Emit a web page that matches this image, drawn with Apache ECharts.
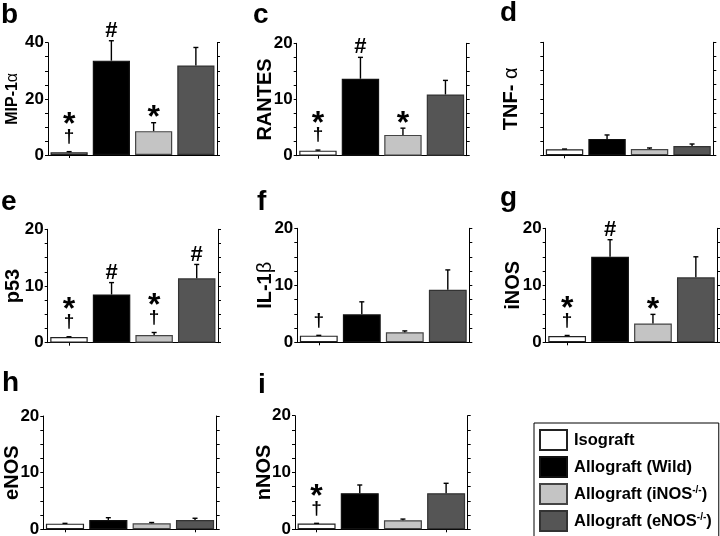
<!DOCTYPE html>
<html><head><meta charset="utf-8">
<script src="https://cdn.jsdelivr.net/npm/echarts@6/dist/echarts.min.js"></script>
<style>html,body{margin:0;padding:0;background:#fff}#c{width:720px;height:536px}</style>
</head><body><div id="c"></div>
<script>
// ---- data ----
const groups = ['Isograft', 'Allograft (Wild)', 'Allograft (iNOS-/-)', 'Allograft (eNOS-/-)'];
const panelLetters = ['b', 'c', 'd', 'e', 'f', 'g', 'h', 'i'];
const axisNames = ['MIP-1{g|α}', 'RANTES', 'TNF- {g|α}', 'p53', 'IL-1{g|β}', 'iNOS', 'eNOS', 'nNOS'];
const yMax = [40, 20, 20, 20, 20, 20, 20, 20];
const yLabelStep = [20, 10, 0, 10, 10, 10, 10, 10];

const mipMeans = [1.0, 33.6, 8.5, 31.9];
const mipErr = [0.2, 7.1, 3.0, 6.4];
const mipMarks = [['†', '*'], ['#'], ['*'], []];

const rantesMeans = [0.9, 13.7, 3.7, 10.9];
const rantesErr = [0.1, 3.8, 1.2, 2.5];
const rantesMarks = [['†', '*'], ['#'], ['*'], []];

const tnfMeans = [1.06, 2.9, 1.1, 1.65];
const tnfErr = [0.05, 0.7, 0.2, 0.35];
const tnfMarks = [[], [], [], []];

const p53Means = [1.0, 8.5, 1.35, 11.35];
const p53Err = [0.05, 2.1, 0.45, 2.45];
const p53Marks = [['†', '*'], ['#'], ['†', '*'], ['#']];

const il1Means = [1.17, 4.9, 1.75, 9.2];
const il1Err = [0.05, 2.2, 0.25, 3.5];
const il1Marks = [['†'], [], [], []];

const inosMeans = [1.1, 15.0, 3.3, 11.4];
const inosErr = [0.1, 3.0, 1.6, 3.6];
const inosMarks = [['†', '*'], ['#'], ['*'], []];

const enosMeans = [1.0, 1.65, 1.06, 1.65];
const enosErr = [0.05, 0.4, 0.14, 0.3];
const enosMarks = [[], [], [], []];

const nnosMeans = [1.0, 6.35, 1.6, 6.35];
const nnosErr = [0.05, 1.45, 0.2, 1.75];
const nnosMarks = [['†', '*'], [], [], []];

const panelMeans = [mipMeans, rantesMeans, tnfMeans, p53Means, il1Means, inosMeans, enosMeans, nnosMeans];
const panelErr = [mipErr, rantesErr, tnfErr, p53Err, il1Err, inosErr, enosErr, nnosErr];
const panelMarks = [mipMarks, rantesMarks, tnfMarks, p53Marks, il1Marks, inosMarks, enosMarks, nnosMarks];

// ---- layout / style ----
const gridBoxes = [
  [48, 42.7, 169, 112.3], [296.7, 43.3, 170, 112.4], [543.3, 42.3, 170, 113],
  [47.7, 229.3, 170.3, 113.4], [297.3, 228.3, 172, 114], [545.7, 228.3, 171.6, 114],
  [43.3, 416, 173.4, 113.3], [295, 415.7, 172.7, 113.6]
];
const nameGaps = [27, 21, 22, 24, 22, 22, 21, 21];
const nameSizes = [16, 20, 20, 20, 20, 20, 20, 20];
const letterPos = [[1, 28], [253, 28], [500, 26], [1, 215], [257, 215], [500, 211], [2, 396], [258, 398]];
const fills = ['#ffffff', '#000000', '#c4c4c4', '#555555'];
const borders = ['#222222', '#111111', '#444444', '#333333'];
const FONT = '"Liberation Sans", Arial, Helvetica, sans-serif';

const symStyle = {
  '#': {size: 22, above: 10, shift: 0},
  '*': {size: 32, above: 12, shift: 0.24},
  '†': {size: 19, above: 14, shift: -0.05}
};

const grids = [], xAxes = [], yAxes = [], series = [], graphics = [];

panelMeans.forEach((means, p) => {
  const [l, t, w, h] = gridBoxes[p];
  grids.push({left: l, top: t, width: w, height: h, outerBoundsMode: 'none', containLabel: false});
  xAxes.push({
    type: 'category', gridIndex: p, data: groups,
    axisLine: {show: true, lineStyle: {color: '#000', width: 1}},
    axisTick: {show: true, alignWithLabel: true, length: 3, lineStyle: {color: '#000'}},
    axisLabel: {show: false}, splitLine: {show: false}
  });
  const labStep = yLabelStep[p];
  yAxes.push({
    type: 'value', gridIndex: p, position: 'left', min: 0, max: yMax[p], interval: yMax[p] / 8,
    name: axisNames[p], nameLocation: 'middle', nameGap: nameGaps[p], nameRotate: 90, nameMoveOverlap: false,
    nameTextStyle: {fontFamily: FONT, fontWeight: 'bold', fontSize: nameSizes[p], color: '#000',
      rich: {g: {fontFamily: FONT, fontWeight: 'normal', fontSize: nameSizes[p], color: '#000'}}},
    axisLine: {show: true, lineStyle: {color: '#000', width: 1}},
    axisTick: {show: true, length: 3, lineStyle: {color: '#000'}},
    axisLabel: {show: true, margin: 4, fontFamily: FONT, fontWeight: 'bold', fontSize: 17, color: '#000',
      showMinLabel: true, showMaxLabel: true, hideOverlap: false,
      formatter: v => (labStep && Math.abs(v % labStep) < 1e-6) ? String(v) : ''},
    splitLine: {show: false}
  });
  yAxes.push({
    type: 'value', gridIndex: p, position: 'right', min: 0, max: yMax[p], interval: yMax[p] / 8,
    axisLine: {show: true, lineStyle: {color: '#000', width: 1}},
    axisTick: {show: true, length: 3, lineStyle: {color: '#000'}},
    axisLabel: {show: false}, splitLine: {show: false}
  });
  groups.forEach((g, k) => {
    series.push({
      type: 'bar', name: g, xAxisIndex: p, yAxisIndex: 2 * p, stack: 'p' + p,
      barWidth: '88%', silent: true, animation: false,
      itemStyle: {color: fills[k], borderColor: borders[k], borderWidth: 1.2},
      data: means.map((v, i) => i === k ? v : '-')
    });
  });
  const errs = panelErr[p];
  const marks = panelMarks[p];
  series.push({
    type: 'custom', xAxisIndex: p, yAxisIndex: 2 * p, silent: true, animation: false, clip: false, z: 5,
    data: means.map((v, i) => [i, v, v + errs[i]]),
    renderItem: (params, api) => {
      const k = api.value(0), m = api.value(1), top = api.value(2);
      const b = api.coord([k, m]);
      const tp = api.coord([k, top]);
      const ch = [];
      ch.push({type: 'line', shape: {x1: b[0], y1: b[1], x2: tp[0], y2: tp[1]}, style: {stroke: '#000', lineWidth: 1.4}});
      ch.push({type: 'line', shape: {x1: tp[0] - 2.5, y1: tp[1], x2: tp[0] + 2.5, y2: tp[1]}, style: {stroke: '#000', lineWidth: 1.4}});
      const ms = marks[params.dataIndex] || [];
      let above = 0;
      ms.forEach((s, j) => {
        const st = symStyle[s];
        above = j === 0 ? st.above : above + 20;
        const y = tp[1] - above + st.shift * st.size;
        ch.push({type: 'text', style: {text: s, x: tp[0], y: y, align: 'center', verticalAlign: 'middle',
          fontFamily: FONT, fontWeight: 'bold', fontSize: st.size, fill: '#000'}});
      });
      return {type: 'group', children: ch};
    }
  });
  graphics.push({type: 'text', left: letterPos[p][0], top: letterPos[p][1] - 27,
    style: {text: panelLetters[p], fontFamily: FONT, fontWeight: 'bold', fontSize: 28, fill: '#000'}});
});

const chart = echarts.init(document.getElementById('c'), null, {renderer: 'canvas'});
chart.setOption({
  animation: false,
  backgroundColor: '#fff',
  grid: grids, xAxis: xAxes, yAxis: yAxes, series: series, graphic: graphics,
  legend: {
    show: true, type: 'plain', data: groups, orient: 'vertical', left: 534, top: 423, height: 104,
    itemWidth: 27, itemHeight: 20, itemGap: 5, padding: [6, 7, 5, 5],
    borderColor: '#000', borderWidth: 1, icon: 'rect', selectedMode: false,
    formatter: n => n.replace('-/-', '{s|-/-}'),
    textStyle: {fontFamily: FONT, fontWeight: 'bold', fontSize: 16.5, color: '#000', padding: [0, 0, 0, 2],
      rich: {s: {fontFamily: FONT, fontWeight: 'bold', fontSize: 10, color: '#000', verticalAlign: 'top', lineHeight: 10}}}
  }
});
</script></body></html>
